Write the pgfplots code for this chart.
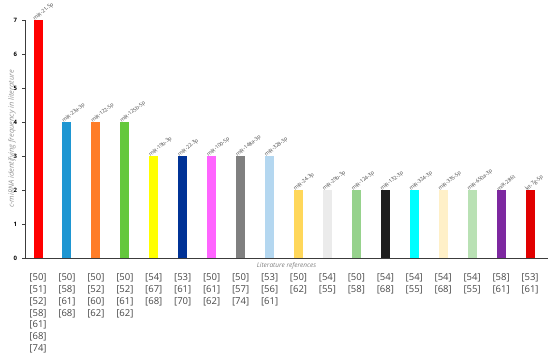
\documentclass[border=0pt]{standalone}
\usepackage{fontspec}
\setmainfont{Open Sans}
\usepackage{pgfplots}
\pgfplotsset{compat=1.18}
\newcommand\rf[1]{[#1]}
\definecolor{c1}{RGB}{255,0,0}
\definecolor{c2}{RGB}{30,150,210}
\definecolor{c3}{RGB}{255,125,40}
\definecolor{c4}{RGB}{100,200,60}
\definecolor{c5}{RGB}{255,255,0}
\definecolor{c6}{RGB}{0,50,150}
\definecolor{c7}{RGB}{255,100,255}
\definecolor{c8}{RGB}{128,128,128}
\definecolor{c9}{RGB}{180,215,240}
\definecolor{c10}{RGB}{255,215,90}
\definecolor{c11}{RGB}{235,235,235}
\definecolor{c12}{RGB}{150,210,140}
\definecolor{c13}{RGB}{30,30,30}
\definecolor{c14}{RGB}{0,255,255}
\definecolor{c15}{RGB}{255,240,200}
\definecolor{c16}{RGB}{185,225,180}
\definecolor{c17}{RGB}{125,40,160}
\definecolor{c18}{RGB}{225,0,0}
\definecolor{axc}{RGB}{60,60,60}
\definecolor{txtc}{RGB}{70,70,70}
\begin{document}
\begin{tikzpicture}
\useasboundingbox (-25pt,-99pt) rectangle (525pt,258pt);
\begin{axis}[
  scale only axis,
  width=523pt, height=238pt,
  xmin=-0.45, xmax=17.62,
  ymin=0, ymax=7,
  axis lines=left,
  axis line style={-, axc, line width=0.9pt},
  clip=false,
  ybar, bar width=9pt, bar shift=0pt,
  ytick={0,...,7},
  ytick style={axc, line width=0.6pt},
  tick align=outside,
  major tick length=2.5pt,
  yticklabel style={font=\fontsize{6}{7}\selectfont\bfseries, text=black, xshift=-2pt},
  /pgf/number format/assume math mode=true,
  xtick={0,...,17},
  xtick style={draw=none},
  xticklabel style={align=center, anchor=north, yshift=-10pt, font=\fontsize{9.5}{11.7}\selectfont, text=txtc},
  xticklabels={
    {\rf{50}\\\rf{51}\\\rf{52}\\\rf{58}\\\rf{61}\\\rf{68}\\\rf{74}},
    {\rf{50}\\\rf{58}\\\rf{61}\\\rf{68}},
    {\rf{50}\\\rf{52}\\\rf{60}\\\rf{62}},
    {\rf{50}\\\rf{52}\\\rf{61}\\\rf{62}},
    {\rf{54}\\\rf{67}\\\rf{68}},
    {\rf{53}\\\rf{61}\\\rf{70}},
    {\rf{50}\\\rf{61}\\\rf{62}},
    {\rf{50}\\\rf{57}\\\rf{74}},
    {\rf{53}\\\rf{56}\\\rf{61}},
    {\rf{50}\\\rf{62}},
    {\rf{54}\\\rf{55}},
    {\rf{50}\\\rf{58}},
    {\rf{54}\\\rf{68}},
    {\rf{54}\\\rf{55}},
    {\rf{54}\\\rf{68}},
    {\rf{54}\\\rf{55}},
    {\rf{58}\\\rf{61}},
    {\rf{53}\\\rf{61}}},
  xlabel={Literature references},
  xlabel style={at={(axis description cs:0.5,0)}, anchor=north, yshift=-1pt, font=\fontsize{6.5}{7}\selectfont\itshape, text=gray},
  ylabel={c-miRNA identifying frequency in literature},
  ylabel style={at={(axis description cs:0,0.5)}, anchor=center, yshift=13pt, font=\fontsize{7.4}{8}\selectfont\itshape, text=gray!85},
  point meta=explicit symbolic,
  nodes near coords,
  nodes near coords style={rotate=40, anchor=south west, xshift=-3.5pt, yshift=-0.5pt, inner sep=0.3pt, font=\fontsize{5.2}{5.5}\selectfont, text=txtc},
]
\addplot[fill=c1, draw=none] coordinates {(0,7)[miR-21-5p]};
\addplot[fill=c2, draw=none] coordinates {(1,4)[miR-23a-3p]};
\addplot[fill=c3, draw=none] coordinates {(2,4)[miR-122-5p]};
\addplot[fill=c4, draw=none] coordinates {(3,4)[miR-125b-5p]};
\addplot[fill=c5, draw=none] coordinates {(4,3)[miR-19b-3p]};
\addplot[fill=c6, draw=none] coordinates {(5,3)[miR-22-3p]};
\addplot[fill=c7, draw=none] coordinates {(6,3)[miR-100-5p]};
\addplot[fill=c8, draw=none] coordinates {(7,3)[miR-148a-3p]};
\addplot[fill=c9, draw=none] coordinates {(8,3)[miR-328-3p]};
\addplot[fill=c10, draw=none] coordinates {(9,2)[miR-24-3p]};
\addplot[fill=c11, draw=none] coordinates {(10,2)[miR-29b-3p]};
\addplot[fill=c12, draw=none] coordinates {(11,2)[miR-124-3p]};
\addplot[fill=c13, draw=none] coordinates {(12,2)[miR-132-3p]};
\addplot[fill=c14, draw=none] coordinates {(13,2)[miR-324-3p]};
\addplot[fill=c15, draw=none] coordinates {(14,2)[miR-335-5p]};
\addplot[fill=c16, draw=none] coordinates {(15,2)[miR-650a-3p]};
\addplot[fill=c17, draw=none] coordinates {(16,2)[miR-2861]};
\addplot[fill=c18, draw=none] coordinates {(17,2)[let-7g-5p]};
\end{axis}
\end{tikzpicture}
\end{document}
